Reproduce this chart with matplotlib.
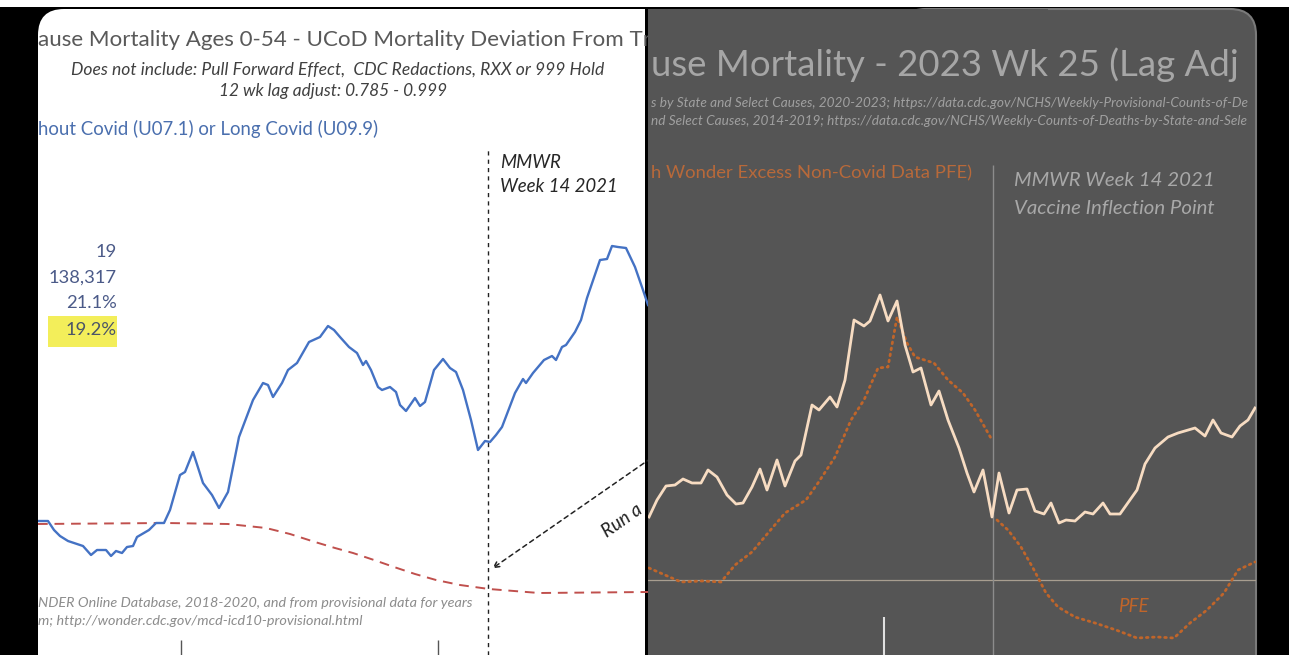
import numpy as np
import matplotlib
matplotlib.use("Agg")
import matplotlib.pyplot as plt
from matplotlib.patches import FancyBboxPatch, Rectangle, FancyArrowPatch
from matplotlib.transforms import IdentityTransform

plt.rcParams['font.family'] = ['Lato', 'DejaVu Sans']

W, H = 1289, 655

# left chart: weekly deviation (%) from trend, ages 0-54, non-covid
blue_wk = [0, 2, 3.2, 4.4, 6, 9, 10.6, 11.8, 13.6, 14.6, 15.6, 16.8, 17.8, 19, 19.8, 22.2,
           23.6, 25.2, 26.4, 28.4, 29.4, 31, 33, 34.8, 36.2, 38, 40.2, 43, 45, 46, 47, 48.8,
           50, 51.8, 54.2, 56.4, 58, 59.2, 60.4, 62.2, 63.8, 65, 65.6, 66.6, 68, 68.8, 70.4,
           71.6, 72.4, 73.6, 75.4, 76.4, 77.4, 79.2, 81, 82.4, 83.6, 85, 86.6, 88, 89.4, 90.4,
           91.6, 92.8, 95.4, 97, 97.6, 99, 101.2, 102.8, 103.6, 104.8, 105.6, 107.4, 108.6,
           109.8, 112.4, 113.8, 114.8, 116, 117.6, 119.4, 121, 122]
blue_val = [0.2, 0.2, -0.7, -1.3, -1.8, -2.3, -3.2, -2.7, -2.7, -3.3, -2.8, -3.0, -2.4, -2.3,
            -1.4, -0.7, 0, 0, 1.3, 4.8, 5.1, 7.1, 4.0, 2.8, 1.5, 3.1, 8.6, 12.3, 14.0, 13.8,
            12.6, 14.0, 15.3, 16.0, 18.1, 18.6, 19.7, 19.3, 18.6, 17.6, 17.0, 15.8, 16.2, 15.3,
            13.6, 13.3, 13.6, 13.1, 11.8, 11.2, 12.5, 11.7, 12.1, 15.3, 16.4, 15.5, 15.1, 13.3,
            10.3, 7.3, 8.2, 8.1, 8.8, 9.6, 13.0, 14.4, 14.0, 15.0, 16.3, 16.7, 16.3, 17.6, 17.8,
            19.1, 20.3, 22.5, 26.3, 26.4, 27.7, 27.6, 27.5, 25.6, 23.3, 21.8]

trend_wk = [0, 25.6, 38, 45.6, 50.4, 55.4, 59.4, 63, 67.2, 71.2, 75.4, 79.6, 84.4, 90.2, 100.2, 122]
trend_val = [-0.1, 0, -0.1, -0.5, -1.1, -1.9, -2.5, -3.0, -3.7, -4.4, -5.1, -5.7, -6.2, -6.6, -7.0, -6.9]

mmwr_wk = 90
year_ticks = [28.6, 80.0]
arrow_from = (124.4, 7.1)
arrow_to = (90.4, -4.7)

stats = ['19', '138,317', '21.1%', '19.2%']

# right chart: excess mortality vs PFE
excess_wk = [0.2, 1.8, 3.6, 5.4, 7, 8.8, 10.6, 12, 13.8, 15.8, 17.6, 19, 20.8, 22.4, 23.8, 25.8,
             27.4, 29.4, 30.6, 32.8, 34.2, 36.4, 37.8, 39.4, 41.2, 43.2, 44.4, 46.4, 48, 49.8,
             51.4, 53, 54.6, 56.6, 58.2, 60, 62.2, 63.8, 65.2, 67, 68.8, 70.2, 72.2, 73.8, 75.8,
             77.4, 79.2, 80.6, 82.2, 83.6, 85.4, 87.4, 89, 91, 92.4, 94.4, 97.8, 99.4, 101.4,
             104, 106, 109.4, 111.4, 113, 114.6, 116.8, 118.4, 120, 121.4]
excess_val = [6.3, 8.0, 9.4, 9.5, 10.1, 9.7, 9.7, 11.0, 10.3, 8.5, 7.6, 7.7, 9.3, 11.1, 9.0, 12.0,
              9.4, 11.9, 12.5, 17.5, 17.0, 18.3, 17.3, 20.0, 26.0, 25.4, 25.9, 28.5, 25.9, 27.9,
              23.5, 20.8, 21.2, 17.5, 18.9, 16.0, 13.2, 10.7, 8.8, 11.0, 6.3, 10.7, 6.7, 9.0, 9.1,
              6.9, 6.6, 7.7, 5.7, 6.0, 5.9, 6.8, 6.6, 7.7, 6.6, 6.6, 9.0, 11.6, 13.2, 14.3, 14.7,
              15.2, 14.4, 16.0, 14.7, 14.3, 15.4, 16.0, 17.2]

pfe_wk = [0.2, 3.4, 6.6, 10.8, 14.6, 17.4, 20.8, 24, 27.4, 31.6, 34, 37.4, 40.6, 43.2, 46, 48,
          49.8, 51.8, 53.4, 57.2, 60, 63, 65.4, 68.8, 69.3, 69.8, 72, 74.6, 77, 79.6, 82, 85.4,
          89.4, 93.6, 97.8, 101.8, 105.2, 108.4, 111.8, 115.2, 118, 121.4]
pfe_val = [1.2, 0.5, -0.2, -0.1, -0.2, 1.5, 2.8, 4.7, 6.7, 8.0, 9.7, 12.3, 16.0, 18.0, 21.2, 21.3,
           26.3, 23.7, 22.3, 21.7, 20.0, 18.7, 17.0, 14.0, np.nan, 6.0, 5.0, 3.3, 1.2, -1.3, -2.7,
           -3.7, -4.3, -5.0, -5.8, -5.7, -5.8, -4.3, -3.0, -1.3, 1.0, 1.8]

inflection_wk = 69
right_tick = 47.2

fig = plt.figure(figsize=(W / 100, H / 100), dpi=100, facecolor='black')

# screenshot backgrounds, in pixels
top = H - 8
bg = dict(transform=IdentityTransform(), zorder=-10)
fig.patches.append(Rectangle((0, top), W, 8, facecolor='white', edgecolor='none', **bg))
fig.patches.append(Rectangle((0, top - 1), W, 2, facecolor='black', edgecolor='none', **bg))
fig.patches.append(FancyBboxPatch((38, -60), 400, top - 1 + 60, boxstyle='round,pad=0,rounding_size=26',
                                  facecolor='white', edgecolor='none', **bg))
fig.patches.append(Rectangle((200, -10), 448, top - 1 + 10, facecolor='white', edgecolor='none', **bg))
fig.patches.append(FancyBboxPatch((900, -60), 356, top - 1 + 60, boxstyle='round,pad=0,rounding_size=26',
                                  facecolor='#555555', edgecolor='#7a7a7a', linewidth=1.5, **bg))
fig.patches.append(Rectangle((648, -10), 400, top - 1 + 10, facecolor='#555555', edgecolor='none', **bg))
fig.patches.append(Rectangle((645, -10), 3, top - 1 + 10, facecolor='black', edgecolor='none', **bg))

# ---------------- left panel ----------------
ax1 = fig.add_axes([38 / W, 0, 610 / W, (H - 8) / H])
ax1.set_facecolor('none')
ax1.axis('off')
ax1.set_xlim(0, 122)
ax1.set_ylim(-13.2, 51.5)

ax1.plot(trend_wk, trend_val, color='#c0504d', lw=1.4, ls=(0, (5, 3.5)))
ax1.plot(blue_wk, blue_val, color='#4472c4', lw=1.7)
ax1.vlines(mmwr_wk, -13.2, 37.3, color='#222222', lw=1, ls=(0, (3, 3)))
ax1.vlines(year_ticks, -13.2, -11.7, color='#555555', lw=1)
arr = FancyArrowPatch(arrow_from, arrow_to, arrowstyle='->', mutation_scale=10,
                      color='#222222', lw=1.1, ls=(0, (3, 2.5)))
ax1.add_patch(arr)


def t1(x, y, s, **kw):
    ax1.text((x - 38) / 610, (H - y) / (H - 8), s, transform=ax1.transAxes, clip_on=True, **kw)


t1(38, 40, 'ause Mortality Ages 0-54 - UCoD Mortality Deviation From Tr', fontsize=16.1,
   color='#595959', va='center', ha='left')
t1(338, 70, 'Does not include: Pull Forward Effect,  CDC Redactions, RXX or 999 Hold', fontsize=12.6,
   style='italic', color='#404040', va='center', ha='center')
t1(333, 91, '12 wk lag adjust: 0.785 - 0.999', fontsize=12.4, style='italic', color='#404040',
   va='center', ha='center')
t1(38, 129, 'hout Covid (U07.1) or Long Covid (U09.9)', fontsize=13.4, color='#4a6fae',
   va='center', ha='left')
t1(500, 163, 'MMWR', fontsize=13.4, style='italic', color='#262626', va='center', ha='left')
t1(500, 186, 'Week 14 2021', fontsize=13.4, style='italic', color='#262626', va='center', ha='left')
ax1.add_patch(Rectangle(((48 - 38) / 610, (H - 347) / (H - 8)), 69 / 610, 31 / (H - 8),
                        transform=ax1.transAxes, facecolor='#f3ee5a', edgecolor='none'))
for s, y in zip(stats, [252, 278, 303, 330]):
    t1(117, y, s, fontsize=13.2, color='#4b5a88' if s != stats[-1] else '#4a5468',
       va='center', ha='right')
t1(622, 521, 'Run a', fontsize=13.5, style='italic', color='#222222', rotation=35,
   va='center', ha='center', rotation_mode='anchor')
t1(38, 603, 'NDER Online Database, 2018-2020, and from provisional data for years', fontsize=10.4,
   style='italic', color='#8c8c8c', va='center', ha='left')
t1(38, 621, 'm; http://wonder.cdc.gov/mcd-icd10-provisional.html', fontsize=10.4,
   style='italic', color='#8c8c8c', va='center', ha='left')

# ---------------- right panel ----------------
ax2 = fig.add_axes([648 / W, 0, 608 / W, (H - 8) / H])
ax2.set_facecolor('none')
ax2.axis('off')
ax2.set_xlim(0, 121.6)
ax2.set_ylim(-7.5, 57.2)

ax2.axhline(0, color='#a89e90', lw=0.9)
ax2.vlines(inflection_wk, -7.5, 41.5, color='#8c8c8c', lw=1)
ax2.vlines(right_tick, -7.5, -3.7, color='#e0e0e0', lw=1.5)
ax2.plot(pfe_wk, pfe_val, color='#c0652a', lw=2, ls=(0, (0.6, 1.6)), dash_capstyle='round')
ax2.plot(excess_wk, excess_val, color='#f7dcc2', lw=2)


def t2(x, y, s, **kw):
    ax2.text((x - 648) / 608, (H - y) / (H - 8), s, transform=ax2.transAxes, clip_on=True, **kw)


t2(651, 65, 'use Mortality - 2023 Wk 25 (Lag Adj', fontsize=26.4, color='#a6a6a6',
   va='center', ha='left')
t2(651, 103, 's by State and Select Causes, 2020-2023; https://data.cdc.gov/NCHS/Weekly-Provisional-Counts-of-De',
   fontsize=9.8, style='italic', color='#a0a0a0', va='center', ha='left')
t2(651, 121, 'nd Select Causes, 2014-2019; https://data.cdc.gov/NCHS/Weekly-Counts-of-Deaths-by-State-and-Sele',
   fontsize=9.8, style='italic', color='#a0a0a0', va='center', ha='left')
t2(651, 173, 'h Wonder Excess Non-Covid Data PFE)', fontsize=13.3, color='#b8693a',
   va='center', ha='left')
t2(1014, 181, 'MMWR Week 14 2021', fontsize=14.7, style='italic', color='#a8a8a8',
   va='center', ha='left')
t2(1014, 208, 'Vaccine Inflection Point', fontsize=14.7, style='italic', color='#a8a8a8',
   va='center', ha='left')
t2(1133, 607, 'PFE', fontsize=13.5, style='italic', color='#c0652a', va='center', ha='center')

fig.savefig('out.png', dpi=100, facecolor='black')
